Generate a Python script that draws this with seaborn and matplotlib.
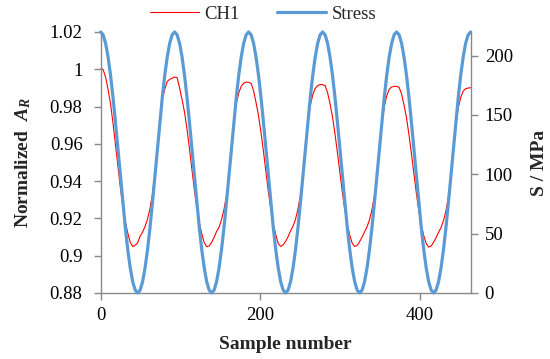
import matplotlib
matplotlib.use("Agg")
import matplotlib.pyplot as plt
import numpy as np
import seaborn as sns
from matplotlib.ticker import FuncFormatter

# stress over one loading cycle (30 samples per cycle)
stress_cycle = [220.0, 217.6, 210.5, 199.0, 183.6, 165.0, 144.0, 121.5, 98.5, 76.0,
                55.0, 36.4, 21.0, 9.5, 2.4, 0.0, 2.4, 9.5, 21.0, 36.4,
                55.0, 76.0, 98.5, 121.5, 144.0, 165.0, 183.6, 199.0, 210.5, 217.6]
stress = stress_cycle * 5 + [220.0]

# normalized A_R of channel 1
ch1 = [
    1.0010, 0.9998, 0.9958, 0.9893, 0.9815, 0.9712, 0.9597, 0.9478, 0.9365, 0.9262,
    0.9183, 0.9121, 0.9072, 0.9049, 0.9056, 0.9069, 0.9105, 0.9126, 0.9157, 0.9196,
    0.9252, 0.9330, 0.9442, 0.9585, 0.9731, 0.9838, 0.9893, 0.9934, 0.9946, 0.9952,
    0.9958, 0.9955, 0.9900, 0.9838, 0.9770, 0.9680, 0.9575, 0.9462, 0.9352, 0.9255,
    0.9178, 0.9118, 0.9070, 0.9048, 0.9052, 0.9071, 0.9098, 0.9130, 0.9152, 0.9193,
    0.9247, 0.9322, 0.9435, 0.9570, 0.9712, 0.9815, 0.9873, 0.9909, 0.9925, 0.9931,
    0.9930, 0.9924, 0.9885, 0.9822, 0.9752, 0.9662, 0.9560, 0.9450, 0.9343, 0.9247,
    0.9170, 0.9113, 0.9065, 0.9050, 0.9058, 0.9077, 0.9102, 0.9133, 0.9158, 0.9195,
    0.9250, 0.9325, 0.9432, 0.9565, 0.9705, 0.9805, 0.9863, 0.9897, 0.9912, 0.9918,
    0.9917, 0.9912, 0.9875, 0.9815, 0.9745, 0.9655, 0.9553, 0.9445, 0.9340, 0.9245,
    0.9168, 0.9110, 0.9067, 0.9049, 0.9055, 0.9075, 0.9100, 0.9128, 0.9155, 0.9192,
    0.9246, 0.9320, 0.9428, 0.9560, 0.9700, 0.9800, 0.9858, 0.9892, 0.9905, 0.9908,
    0.9908, 0.9903, 0.9868, 0.9808, 0.9740, 0.9650, 0.9548, 0.9440, 0.9336, 0.9240,
    0.9165, 0.9108, 0.9065, 0.9046, 0.9052, 0.9072, 0.9097, 0.9125, 0.9150, 0.9188,
    0.9240, 0.9315, 0.9422, 0.9553, 0.9692, 0.9793, 0.9850, 0.9882, 0.9896, 0.9899,
    0.9901,
]

# evenly spaced sample grid covering 5 cycles
sample = np.linspace(0, 463.75, len(stress))

left_ticks = [0.88, 0.90, 0.92, 0.94, 0.96, 0.98, 1.00, 1.02]
right_ticks = [0, 50, 100, 150, 200]
x_ticks = [0, 200, 400]

sns.set_style("ticks")
plt.rcParams["font.family"] = ["Liberation Serif", "DejaVu Serif"]
plt.rcParams["mathtext.fontset"] = "custom"
plt.rcParams["mathtext.it"] = "Liberation Serif:italic:bold"
plt.rcParams["mathtext.rm"] = "Liberation Serif:bold"

grey = "#898989"
fig, ax = plt.subplots(figsize=(5.5, 3.59), dpi=100)
fig.subplots_adjust(left=0.183, right=0.856, top=0.911, bottom=0.184)
ax2 = ax.twinx()

sns.lineplot(x=sample, y=ch1, ax=ax, color="#FF0000", linewidth=0.8, legend=False)
sns.lineplot(x=sample, y=stress, ax=ax2, color="#5B9BD5", linewidth=2.3,
             legend=False, clip_on=False)

ax.set_xlim(0, 464)
ax.set_ylim(0.88, 1.02)
ax2.set_ylim(0, 220)
ax.set_xticks(x_ticks)
ax.set_yticks(left_ticks)
ax2.set_yticks(right_ticks)
ax.yaxis.set_major_formatter(FuncFormatter(lambda v, _: f"{v:g}"))

for a in (ax, ax2):
    a.spines["top"].set_visible(False)
    for side in ("left", "right", "bottom"):
        a.spines[side].set_color(grey)
        a.spines[side].set_linewidth(1.0)
    a.tick_params(color=grey, labelcolor="black", length=5, width=1.0,
                  direction="out", labelsize=13.5, pad=5)
ax.tick_params(axis="y", pad=8)
ax2.spines["left"].set_visible(False)
ax2.spines["bottom"].set_visible(False)
ax.spines["right"].set_visible(False)

ax.set_xlabel("Sample number", fontsize=14, fontweight="bold", labelpad=9)
ax.set_ylabel(r"Normalized  $A_R$", fontsize=14, fontweight="bold", labelpad=12)
ax2.set_ylabel("S / MPa", fontsize=14, fontweight="bold", labelpad=13)

fig.legend(handles=[ax.lines[0], ax2.lines[0]], labels=["CH1", "Stress"],
           loc="center", bbox_to_anchor=(0.478, 0.961), ncol=2, frameon=False,
           fontsize=13.5, handlelength=2.6, handletextpad=0.3, columnspacing=2.0)

fig.savefig("out.png", dpi=100)
plt.close(fig)
